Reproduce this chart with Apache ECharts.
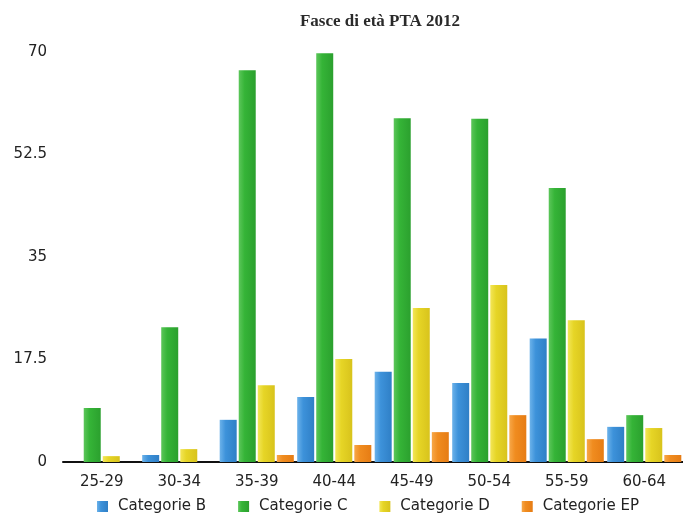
<!DOCTYPE html>
<html>
<head>
<meta charset="utf-8">
<script src="https://cdn.jsdelivr.net/npm/echarts@6/dist/echarts.min.js"></script>
<style>
  html, body { margin: 0; padding: 0; background: #fff; }
  #container { width: 683px; height: 515px; }
</style>
</head>
<body>
<div id="container"></div>
<script>
// Fasce di età PTA 2012
var categories = ["25-29", "30-34", "35-39", "40-44", "45-49", "50-54", "55-59", "60-64"];
var catB  = [0, 1.2, 7.2, 11.1, 15.4, 13.5, 21.1, 6.0];
var catC  = [9.2, 23.0, 66.9, 69.8, 58.7, 58.6, 46.8, 8.0];
var catD  = [1.0, 2.2, 13.1, 17.6, 26.3, 30.2, 24.2, 5.8];
var catEP = [0, 0, 1.2, 2.9, 5.1, 8.0, 3.9, 1.2];
var yTicks = ["0", "17.5", "35", "52.5", "70"];

function shade(light, mid, dark) {
    return new echarts.graphic.LinearGradient(0, 0, 1, 0, [
        { offset: 0, color: light },
        { offset: 0.35, color: mid },
        { offset: 1, color: dark }
    ]);
}

var colors = {
    b:  shade("#6cb2ea", "#3d92da", "#2f7fc6"),
    c:  shade("#5cc65a", "#35b437", "#2ba02e"),
    d:  shade("#f3e657", "#e6d526", "#d8c31c"),
    ep: shade("#f7a748", "#f08c1f", "#e67c14")
};

function mkSeries(name, data, color) {
    return {
        name: name,
        type: "bar",
        data: data,
        barWidth: 17,
        barGap: "12%",
        itemStyle: { color: color },
        emphasis: { disabled: true }
    };
}

var chart = echarts.init(document.getElementById("container"), null, { renderer: "canvas" });
chart.setOption({
    animation: false,
    backgroundColor: "#ffffff",
    title: {
        text: "Fasce di età PTA 2012",
        left: 375,
        top: 8,
        textAlign: "center",
        textStyle: {
            fontFamily: "Liberation Serif",
            fontWeight: "bold",
            fontSize: 17,
            color: "#2a2a2a"
        }
    },
    legend: {
        top: 499,
        left: 97,
        padding: 0,
        itemWidth: 11,
        itemHeight: 11,
        itemGap: 32,
        icon: "rect",
        textStyle: {
            fontFamily: "DejaVu Sans",
            fontSize: 15,
            color: "#222",
            padding: [0, 0, 0, 5]
        },
        data: ["Categorie B", "Categorie C", "Categorie D", "Categorie EP"]
    },
    grid: { left: 63, right: 0, top: 52, bottom: 53 },
    xAxis: {
        type: "category",
        data: categories,
        axisLine: { lineStyle: { color: "#111", width: 2 } },
        axisTick: { show: false },
        axisLabel: {
            margin: 13,
            fontFamily: "DejaVu Sans",
            fontSize: 15,
            color: "#222"
        }
    },
    yAxis: {
        type: "value",
        min: 0,
        max: 70,
        interval: 17.5,
        axisLine: { show: false },
        axisTick: { show: false },
        splitLine: { show: false },
        axisLabel: {
            margin: 16,
            fontFamily: "DejaVu Sans",
            fontSize: 15,
            color: "#222",
            formatter: function (v) {
                var i = Math.round(v / 17.5);
                return yTicks[i] !== undefined ? yTicks[i] : "";
            }
        }
    },
    series: [
        mkSeries("Categorie B", catB, colors.b),
        mkSeries("Categorie C", catC, colors.c),
        mkSeries("Categorie D", catD, colors.d),
        mkSeries("Categorie EP", catEP, colors.ep)
    ]
});
</script>
</body>
</html>
